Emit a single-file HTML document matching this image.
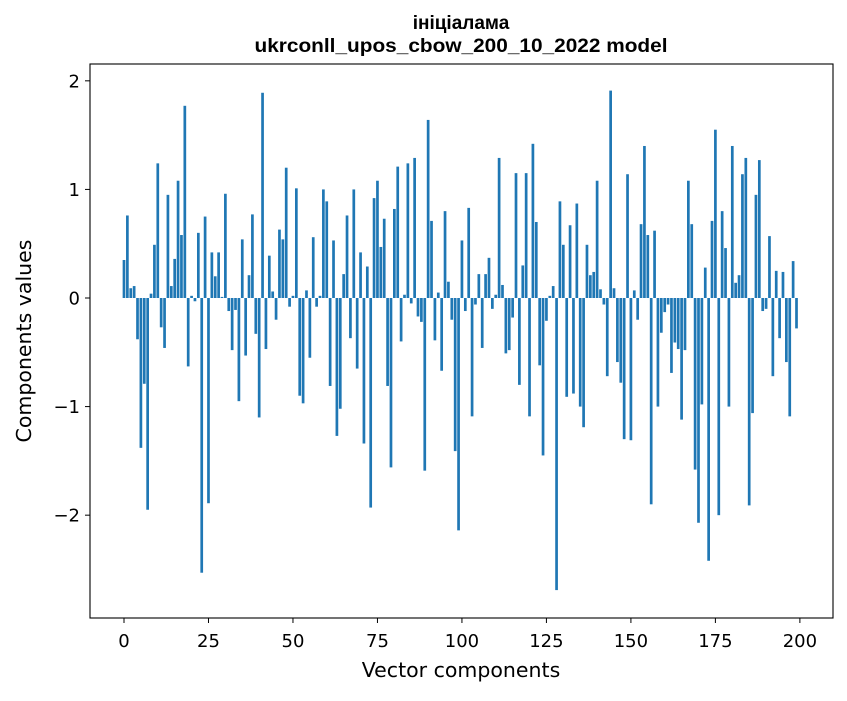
<!DOCTYPE html>
<html><head><meta charset="utf-8"><style>
body{margin:0;background:#fff;}
svg text{font-family:"DejaVu Sans","Liberation Sans",sans-serif;fill:#000;}
</style></head><body>
<svg id="chart" width="847" height="696" viewBox="0 0 847 696" xmlns="http://www.w3.org/2000/svg">
<rect width="847" height="696" fill="#fff"/>
<text x="461" y="29" font-size="19" font-weight="bold" text-anchor="middle" style="font-family:'Liberation Sans',sans-serif">ініціалама</text>
<text x="461" y="52" font-size="19" font-weight="bold" text-anchor="middle" textLength="413" lengthAdjust="spacingAndGlyphs" style="font-family:'Liberation Sans',sans-serif">ukrconll_upos_cbow_200_10_2022 model</text>
<g id="bars"></g>
<g id="axes"></g>
<text x="461" y="677" font-size="20.5" text-anchor="middle">Vector components</text>
<text transform="translate(31,341) rotate(-90)" font-size="20.5" text-anchor="middle">Components values</text>
</svg>
<script>
const values = [0.35,0.76,0.09,0.11,-0.38,-1.38,-0.79,-1.95,0.04,0.49,
1.24,-0.27,-0.46,0.95,0.11,0.36,1.08,0.58,1.77,-0.63,
0.02,-0.03,0.60,-2.53,0.75,-1.89,0.42,0.20,0.42,0.01,
0.96,-0.12,-0.48,-0.11,-0.95,0.54,-0.53,0.21,0.77,-0.33,
-1.10,1.89,-0.47,0.39,0.06,-0.20,0.63,0.54,1.20,-0.08,
0.02,1.01,-0.90,-0.97,0.07,-0.55,0.56,-0.08,0.02,1.00,
0.89,-0.81,0.53,-1.27,-1.02,0.22,0.76,-0.37,1.00,-0.65,
0.42,-1.34,0.29,-1.93,0.92,1.08,0.47,0.73,-0.81,-1.56,
0.82,1.21,-0.40,0.03,1.24,-0.05,1.29,-0.17,-0.22,-1.59,
1.64,0.71,-0.39,0.05,-0.67,0.80,0.15,-0.20,-1.41,-2.14,
0.53,-0.12,0.83,-1.09,-0.06,0.22,-0.46,0.22,0.37,-0.10,
0.03,1.29,0.12,-0.51,-0.48,-0.18,1.15,-0.80,0.30,1.15,
-1.09,1.42,0.70,-0.62,-1.45,-0.21,0.02,0.11,-2.69,0.89,
0.49,-0.91,0.67,-0.88,0.87,-1.00,-1.19,0.49,0.21,0.24,
1.08,0.08,-0.06,-0.72,1.91,0.09,-0.59,-0.78,-1.30,1.14,
-1.31,0.07,-0.20,0.68,1.40,0.58,-1.90,0.62,-1.00,-0.32,
-0.13,-0.06,-0.69,-0.41,-0.47,-1.12,-0.48,1.08,0.68,-1.58,
-2.07,-0.98,0.28,-2.42,0.71,1.55,-2.00,0.80,0.46,-1.00,
1.40,0.14,0.21,1.14,1.29,-1.91,-1.06,0.95,1.27,-0.12,
-0.10,0.57,-0.72,0.25,-0.37,0.24,-0.59,-1.09,0.34,-0.28];
const xTicks = [0,25,50,75,100,125,150,175,200];
const yTicks = [-2,-1,0,1,2];
const xMin=-10.06, xMax=209.8, yMin=-2.947, yMax=2.155;
const L=90,R=833,T=64,B=618;
function sx(v){return L+(v-xMin)/(xMax-xMin)*(R-L);}
function sy(v){return B-(v-yMin)/(yMax-yMin)*(B-T);}
const NS="http://www.w3.org/2000/svg";
const bars=document.getElementById('bars');
values.forEach((v,i)=>{
  const r=document.createElementNS(NS,'rect');
  const x0=sx(i-0.4), x1=sx(i+0.4);
  const y0=sy(Math.max(v,0)), y1=sy(Math.min(v,0));
  r.setAttribute('x',x0);r.setAttribute('width',x1-x0);
  r.setAttribute('y',y0);r.setAttribute('height',Math.max(y1-y0,0.3));
  r.setAttribute('fill','#1f77b4');
  
  
  bars.appendChild(r);
});
const axes=document.getElementById('axes');
const frame=document.createElementNS(NS,'rect');
frame.setAttribute('x',L);frame.setAttribute('y',T);frame.setAttribute('width',R-L);frame.setAttribute('height',B-T);
frame.setAttribute('fill','none');frame.setAttribute('stroke','#000');frame.setAttribute('stroke-width','1.1');


axes.appendChild(frame);
function fmt(n){return n<0?'\u2212'+Math.abs(n):String(n);}
xTicks.forEach(t=>{
  const x=sx(t);
  const l=document.createElementNS(NS,'line');
  l.setAttribute('x1',x);l.setAttribute('x2',x);l.setAttribute('y1',B);l.setAttribute('y2',B+5);l.setAttribute('stroke','#000');
  
  
  axes.appendChild(l);
  const tx=document.createElementNS(NS,'text');
  tx.setAttribute('x',x);tx.setAttribute('y',B+29);tx.setAttribute('font-size','18');tx.setAttribute('text-anchor','middle');
  tx.textContent=fmt(t);
  
  
  axes.appendChild(tx);
});
yTicks.forEach(t=>{
  const y=sy(t);
  const l=document.createElementNS(NS,'line');
  l.setAttribute('x1',L-5);l.setAttribute('x2',L);l.setAttribute('y1',y);l.setAttribute('y2',y);l.setAttribute('stroke','#000');
  
  
  axes.appendChild(l);
  const tx=document.createElementNS(NS,'text');
  tx.setAttribute('x',L-10);tx.setAttribute('y',y+6.5);tx.setAttribute('font-size','18');tx.setAttribute('text-anchor','end');
  tx.textContent=fmt(t);
  
  
  axes.appendChild(tx);
});
</script>
</body></html>
